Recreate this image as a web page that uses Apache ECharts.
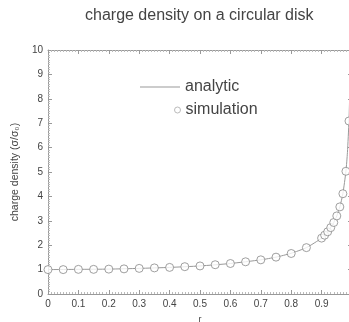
<!DOCTYPE html>
<html><head><meta charset="utf-8">
<script src="https://cdn.jsdelivr.net/npm/echarts@6/dist/echarts.min.js"></script>
<style>html,body{margin:0;padding:0;background:#fff}#c{width:349px;height:322px}</style>
</head><body><div id="c"></div>
<script>
var titleText = 'charge density on a circular disk';
var xName = 'r';
var yName = 'charge density (σ/σ₀)';
var seriesNames = ['analytic', 'simulation'];
var analyticR = [0, 0.1, 0.2, 0.3, 0.4, 0.5, 0.6, 0.7, 0.75, 0.8, 0.85, 0.9, 0.92, 0.94, 0.95, 0.96, 0.97, 0.98, 0.985, 0.99, 0.993, 0.995, 0.997];
var analyticV = [1.00, 1.01, 1.02, 1.05, 1.09, 1.15, 1.25, 1.40, 1.51, 1.67, 1.90, 2.29, 2.55, 2.93, 3.20, 3.57, 4.11, 5.03, 5.80, 7.09, 8.47, 10.0, 12.9];
var simR = [0, 0.05, 0.1, 0.15, 0.2, 0.25, 0.3, 0.35, 0.4, 0.45, 0.5, 0.55, 0.6, 0.65, 0.7, 0.75, 0.8, 0.85, 0.9, 0.91, 0.92, 0.93, 0.94, 0.95, 0.96, 0.97, 0.98, 0.99];
var simV = [1.00, 1.00, 1.01, 1.01, 1.02, 1.03, 1.05, 1.07, 1.09, 1.12, 1.15, 1.20, 1.25, 1.32, 1.40, 1.51, 1.66, 1.90, 2.29, 2.41, 2.55, 2.72, 2.93, 3.20, 3.57, 4.11, 5.03, 7.09];
var xTicks = {min: 0, max: 1, interval: 0.1};
var yTicks = {min: 0, max: 10, interval: 1};

function zip(a, b) { return a.map(function (v, i) { return [v, b[i]]; }); }

var chart = echarts.init(document.getElementById('c'), null, {renderer: 'canvas'});
var axCol = '#999';
var font = 'Liberation Sans, Arial, Helvetica, sans-serif';
function baseAxis(t, pos, labels) {
  return {
    type: 'value', position: pos, min: t.min, max: t.max, interval: t.interval,
    axisLine: {show: true, onZero: false, lineStyle: {color: axCol, width: 1}},
    axisTick: {show: true, inside: true, length: 4, lineStyle: {color: axCol}},
    minorTick: {show: true, splitNumber: 10, length: 2, lineStyle: {color: '#bbb'}},
    splitLine: {show: false},
    axisLabel: {show: labels, color: '#444', fontSize: 10, fontFamily: font, margin: 5,
      formatter: function (v) { return (v === 1 && t.max === 1) ? '' : String(v); }}
  };
}
var xb = baseAxis(xTicks, 'bottom', true);
xb.name = xName; xb.nameLocation = 'middle'; xb.nameGap = 21;
xb.nameTextStyle = {color: '#444', fontSize: 9, fontFamily: font};
var xt = baseAxis(xTicks, 'top', false);
var yl = baseAxis(yTicks, 'left', true);
yl.name = yName; yl.nameLocation = 'middle'; yl.nameGap = 20;
yl.nameTextStyle = {color: '#444', fontSize: 10.5, fontFamily: font};
var yr = baseAxis(yTicks, 'right', false);

chart.setOption({
  animation: false,
  backgroundColor: '#fff',
  title: {text: titleText, left: 80, top: 3, textStyle: {color: '#444', fontSize: 16, fontWeight: 'normal', fontFamily: font}},
  grid: {left: 48, right: -3, top: 50, bottom: 28, containLabel: false, outerBoundsMode: 'none'},
  legend: [
    {data: [{name: seriesNames[0], icon: 'rect', itemStyle: {color: '#999'}}], left: 135, top: 74, itemWidth: 40, itemHeight: 1, itemGap: 5,
      textStyle: {color: '#444', fontSize: 16, fontFamily: font}},
    {data: [{name: seriesNames[1], icon: 'circle', itemStyle: {color: '#fff', borderColor: '#aaa', borderWidth: 1}}], left: 169, top: 97, itemWidth: 6, itemHeight: 6, itemGap: 6,
      textStyle: {color: '#444', fontSize: 16, fontFamily: font}}
  ],
  xAxis: [xb, xt],
  yAxis: [yl, yr],
  series: [
    {name: seriesNames[0], type: 'line', data: zip(analyticR, analyticV), symbol: 'none', smooth: 0.2,
      lineStyle: {color: '#999', width: 1}, itemStyle: {color: '#999'}, clip: true, z: 2},
    {name: seriesNames[1], type: 'scatter', data: zip(simR, simV), symbol: 'circle', symbolSize: 8,
      itemStyle: {color: '#fff', borderColor: '#888', borderWidth: 1}, z: 3}
  ]
});
</script></body></html>
